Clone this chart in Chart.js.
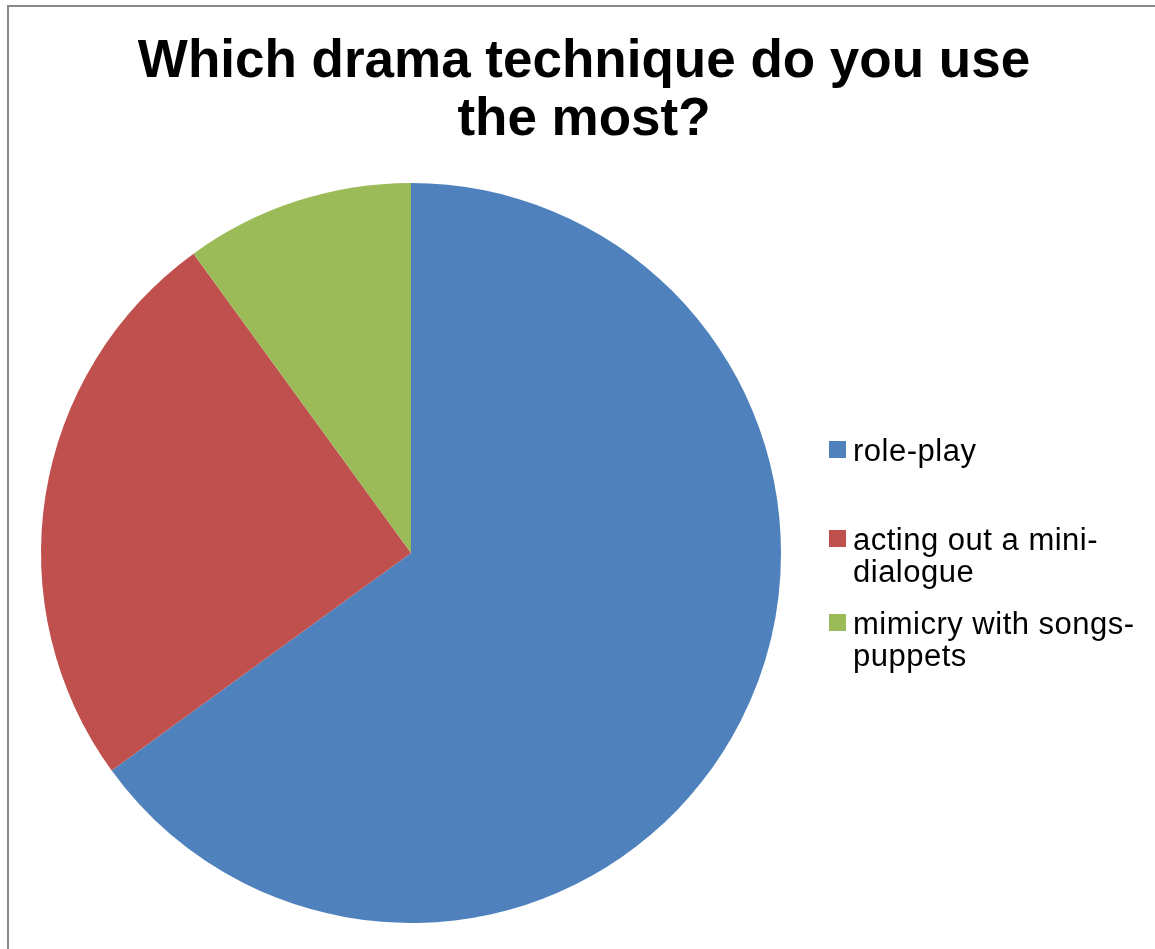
<!DOCTYPE html>
<html>
<head>
<meta charset="utf-8">
<script src="https://cdn.jsdelivr.net/npm/chart.js@4/dist/chart.umd.min.js"></script>
<style>
  body { margin: 0; background: #fff; font-family: "Liberation Sans", Arial, sans-serif; }
  #wrap { position: relative; width: 1155px; height: 949px; overflow: hidden; }
  #frame { position: absolute; left: 7px; top: 5px; width: 1200px; height: 1000px;
           border-left: 2px solid #888; border-top: 2px solid #888; }
  #title { position: absolute; left: 0; width: 1168px; top: 30px; text-align: center;
           font-weight: bold; font-size: 53px; line-height: 58px; color: #000; }
  canvas { position: absolute; left: 0; top: 0; }
  #legend { position: absolute; left: 829px; top: 0; font-size: 31px; line-height: 32px;
            letter-spacing: 0.5px; color: #000; }
  .item { position: absolute; left: 0; white-space: nowrap; }
  .box { position: absolute; left: 0; top: 6px; width: 17px; height: 17px; }
  .txt { position: absolute; left: 24px; top: 0; }
</style>
</head>
<body>
<div id="wrap">
  <div id="frame"></div>
  <canvas id="pieChart" width="1155" height="949"></canvas>
  <div id="title">Which drama technique do you use<br>the most?</div>
  <div id="legend"></div>
</div>
<script>
const labels = ["role-play", "acting out a mini-dialogue", "mimicry with songs-puppets"];
const legendLines = [["role-play"], ["acting out a mini-", "dialogue"], ["mimicry with songs-", "puppets"]];
const values = [65, 25, 10];
const colors = ["#4F81BD", "#C0504D", "#9BBB59"];
const legendTops = [435, 524, 608];

// Legend (Excel style, wrapped labels)
const legendEl = document.getElementById("legend");
legendLines.forEach((lines, i) => {
  const item = document.createElement("div");
  item.className = "item";
  item.style.top = legendTops[i] + "px";
  item.innerHTML = '<div class="box" style="background:' + colors[i] + '"></div>' +
    '<div class="txt">' + lines.join("<br>") + "</div>";
  legendEl.appendChild(item);
});

const ctx = document.getElementById("pieChart").getContext("2d");
new Chart(ctx, {
  type: "pie",
  data: {
    labels: labels,
    datasets: [
      {
        data: values,
        backgroundColor: colors,
        borderWidth: 0,
      },
    ],
  },
  options: {
    responsive: false,
    animation: false,
    layout: {
      padding: { left: 41, right: 374, top: 183, bottom: 26 },
    },
    plugins: {
      legend: { display: false },
      tooltip: { enabled: false },
    },
  },
});
</script>
</body>
</html>
